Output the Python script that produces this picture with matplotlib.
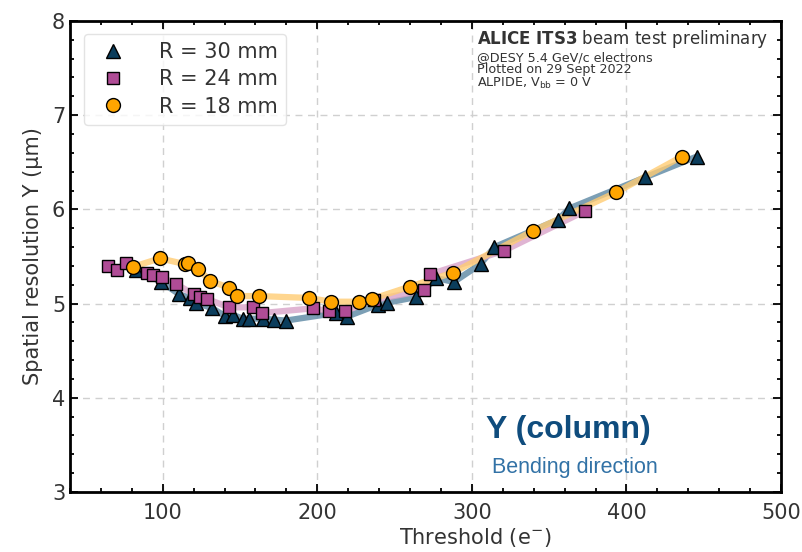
import matplotlib.pyplot as plt
from matplotlib.ticker import MultipleLocator

# R = 30 mm (triangles)
thr_30 = [83, 99, 110.5, 117.4, 121.7, 132.1, 140, 145.4, 151.8, 155.7, 164.7, 171.8, 179.8,
          212, 218.9, 239.5, 245.4, 264.1, 277, 288.4, 305.6, 314.6, 355.7, 363, 412.1, 445.4]
res_30 = [5.36, 5.23, 5.10, 5.06, 5.01, 4.95, 4.87, 4.88, 4.84, 4.84, 4.84, 4.83, 4.82,
          4.90, 4.86, 4.99, 5.01, 5.07, 5.27, 5.23, 5.42, 5.60, 5.89, 6.01, 6.34, 6.56]

# R = 24 mm (squares)
thr_24 = [64.7, 70.1, 76.1, 89.5, 93.7, 99.8, 108.4, 120, 123.9, 128.6, 142.8, 158.3, 164.3,
          197.4, 207.7, 218.1, 236.8, 269, 272.7, 320.6, 372.9]
res_24 = [5.40, 5.36, 5.43, 5.32, 5.30, 5.28, 5.21, 5.10, 5.07, 5.05, 4.96, 4.96, 4.90,
          4.95, 4.92, 4.92, 5.04, 5.14, 5.31, 5.56, 5.98]

# R = 18 mm (circles)
thr_18 = [80.8, 98.1, 114.2, 116.3, 122.8, 130.8, 142.8, 148.2, 162.1, 194.8, 208.8, 227.1,
          235.7, 259.8, 287.9, 339.4, 393.4, 435.7]
res_18 = [5.39, 5.48, 5.42, 5.43, 5.37, 5.24, 5.17, 5.08, 5.08, 5.06, 5.02, 5.02,
          5.05, 5.18, 5.33, 5.77, 6.18, 6.56]

txt = '#333333'
fig = plt.figure(figsize=(8.03, 5.52), dpi=100)
ax = fig.add_axes([0.0872, 0.1087, 0.8854, 0.8533])

series = [
    (thr_30, res_30, '^', '#0b3d5c', '#5b87a3', 'R = 30 mm'),
    (thr_24, res_24, 's', '#b04c96', '#d9a3c9', 'R = 24 mm'),
    (thr_18, res_18, 'o', '#ffa500', '#ffcc73', 'R = 18 mm'),
]

# thick light lines first, then markers on top
for x, y, m, c, lc, lab in series:
    ax.plot(x, y, '-', color=lc, lw=4.5, alpha=0.8, zorder=2, solid_capstyle='round')
for x, y, m, c, lc, lab in series:
    ax.plot(x, y, ls='none', marker=m, ms=10 if m != 's' else 9, mfc=c, mec='black',
            mew=1.0, label=lab, zorder=3)

ax.set_xlim(40, 500)
ax.set_ylim(3, 8)
ax.xaxis.set_major_locator(MultipleLocator(100))
ax.xaxis.set_minor_locator(MultipleLocator(20))
ax.yaxis.set_major_locator(MultipleLocator(1))
ax.yaxis.set_minor_locator(MultipleLocator(0.2))
ax.tick_params(which='both', direction='in', top=True, right=True, labelsize=15, width=1.3,
               labelcolor=txt)
ax.tick_params(which='major', length=6)
ax.tick_params(which='minor', length=3)
ax.tick_params(axis='x', pad=8)
for s in ax.spines.values():
    s.set_linewidth(2)

ax.grid(True, ls='--', color='#d0d0d0', lw=1.0, dashes=(5, 4))
ax.set_axisbelow(True)

ax.set_xlabel('Threshold (e$^{-}$)', fontsize=15, labelpad=2, x=0.57, color=txt)
ax.set_ylabel('Spatial resolution Y (\u00b5m)', fontsize=15, labelpad=6, color=txt)

leg = ax.legend(loc='upper left', fontsize=15, frameon=True, handletextpad=1.2,
                borderpad=0.4, labelspacing=0.35, bbox_to_anchor=(0.005, 0.995))
leg.get_frame().set_edgecolor('#dddddd')
for t in leg.get_texts():
    t.set_color(txt)

ax.text(0.573, 0.985, r'$\bf{ALICE\ ITS3}$ beam test preliminary', transform=ax.transAxes,
        fontsize=12, va='top', ha='left', color=txt)
ax.text(0.573, 0.937, '@DESY 5.4 GeV/c electrons\nPlotted on 29 Sept 2022\nALPIDE, V$_{\\mathrm{bb}}$ = 0 V',
        transform=ax.transAxes, fontsize=9.2, va='top', ha='left', linespacing=0.95, color=txt)

ax.text(0.585, 0.115, 'Y (column)', transform=ax.transAxes, fontsize=23, fontweight='bold',
        color='#0f4c7d', family='Liberation Sans')
ax.text(0.594, 0.04, 'Bending direction', transform=ax.transAxes, fontsize=15.5,
        color='#3272a6', family='Liberation Sans')

fig.savefig('out.png', dpi=100)
